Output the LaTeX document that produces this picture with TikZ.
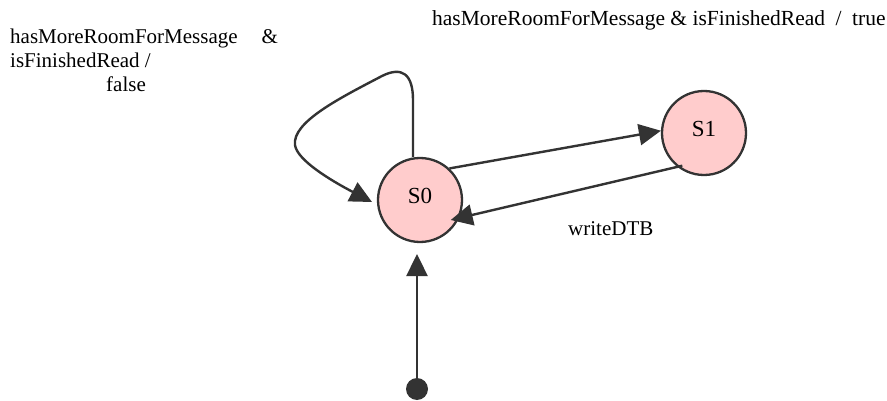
\documentclass[tikz,border=0pt]{standalone}
\usepackage{fontspec}
\setmainfont{Liberation Serif}
\usetikzlibrary{arrows.meta}
\definecolor{edgegray}{HTML}{333333}
\definecolor{statepink}{HTML}{FFCCCC}
\tikzset{
  statenode/.style={circle, draw=edgegray, fill=statepink, line width=2.3pt,
    minimum size=84pt, inner sep=0pt},
  statetext/.style={font=\fontsize{23pt}{26pt}\selectfont, text=black},
  trans/.style={draw=edgegray, line width=2.4pt,
    -{Triangle[length=22pt,width=21pt]}},
  guard/.style={font=\fontsize{21pt}{24pt}\selectfont, inner sep=0pt, text=black},
  initdot/.style={circle, fill=edgegray, minimum size=22pt, inner sep=0pt}
}
\begin{document}
\begin{tikzpicture}[x=1pt,y=1pt]
  \useasboundingbox (0,0) rectangle (887,-401);

  % states
  \node[statenode] (s0) at (420,-200) {};
  \node[statetext, yshift=4.5pt] (s0name) at (s0.center) {S0};
  \node[statenode] (s1) at (704,-133) {};
  \node[statetext, yshift=4.5pt] (s1name) at (s1.center) {S1};

  % initial pseudo-state
  \node[initdot] (init) at (417,-389) {};
  \coordinate (s0entry) at (417,-254);
  \draw[trans] (init.center) -- (s0entry);

  % S0 -> S1
  \draw[trans] (s0.47) -- (s1.177);

  % S1 -> S0
  \coordinate (s1exit) at ([shift={(-21.7pt,-32.7pt)}]s1.center);
  \coordinate (s0back) at ([shift={(30.7pt,-20pt)}]s0.center);
  \draw[trans] (s1exit) -- (s0back);

  % self loop on S0
  \coordinate (loopstart) at ([shift={(-7pt,43pt)}]s0.center);
  \coordinate (loopend) at ([shift={(-48pt,-2pt)}]s0.center);
  \draw[trans] (loopstart) -- (413,-100)
    .. controls (413,-74) and (402,-66) .. (382,-76)
    .. controls (340,-98) and (292,-122) .. (295,-145)
    .. controls (297,-160) and (330,-180) .. (loopend);

  % transition labels
  \node[guard, anchor=base west] (lblloop) at (10,-43.3)
    {\begin{tabular}[t]{@{}l@{}}hasMoreRoomForMessage\hspace{24pt}\&\\
     isFinishedRead /\\
     \hspace*{96pt}false\end{tabular}};
  \node[guard, font=\fontsize{21.5pt}{24pt}\selectfont, anchor=base west] (lblgo) at (432,-25.7)
    {hasMoreRoomForMessage \& isFinishedRead\hspace{10.5pt}/\hspace{10.5pt}true};
  \node[guard, anchor=base west] (lblback) at (568,-235.5) {writeDTB};
\end{tikzpicture}
\end{document}
